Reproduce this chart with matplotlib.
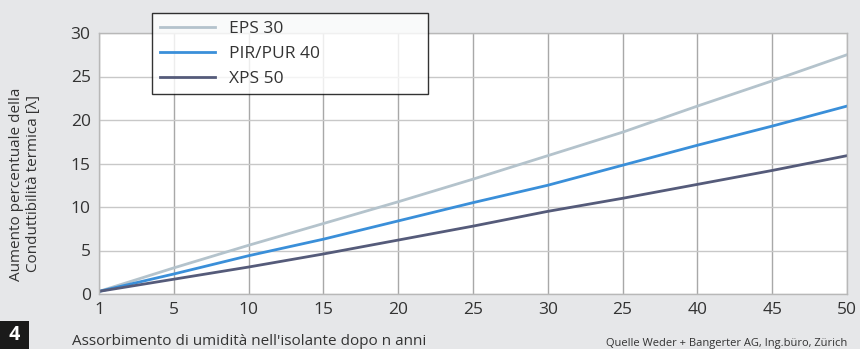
import numpy as np
import matplotlib.pyplot as plt

plt.rcParams['font.family'] = ['Open Sans', 'DejaVu Sans']

# x tick labels as printed (note the repeated "25" in the source)
x_labels = ["1", "5", "10", "15", "20", "25", "30", "25", "40", "45", "50"]
eps_30 = [0.3, 3.0, 5.6, 8.1, 10.6, 13.2, 15.9, 18.6, 21.6, 24.5, 27.5]
pir_40 = [0.3, 2.3, 4.4, 6.3, 8.4, 10.5, 12.5, 14.8, 17.1, 19.3, 21.6]
xps_50 = [0.3, 1.7, 3.1, 4.6, 6.2, 7.8, 9.5, 11.0, 12.6, 14.2, 15.9]

bg = '#e6e7e9'
fig = plt.figure(figsize=(8.6, 3.49), dpi=100, facecolor=bg)
ax = fig.add_axes([99/860, 55/349, 748/860, 261/349])
ax.set_facecolor('white')

pos = np.arange(len(x_labels))
l1, = ax.plot(pos, eps_30, color='#b4c3cc', lw=2, label='EPS 30')
l2, = ax.plot(pos, pir_40, color='#3a8fd9', lw=2, label='PIR/PUR 40')
l3, = ax.plot(pos, xps_50, color='#555b7a', lw=2, label='XPS 50')

ax.set_xlim(0, len(x_labels) - 1)
ax.set_ylim(0, 30)
ax.set_xticks(pos)
ax.set_xticklabels(x_labels)
ax.set_yticks(np.arange(0, 31, 5))
ax.tick_params(length=0, labelsize=12.5, colors='#333333', pad=6)
ax.grid(True, axis='x', color='#a8a8a8', lw=1)
ax.grid(True, axis='y', color='#c8c8c8', lw=1)
ax.set_axisbelow(True)
for s in ax.spines.values():
    s.set_color('#b8b8b8')
    s.set_linewidth(1)

fig.text(25/860, 165/349, "Aumento percentuale della\nConduttibilità termica [λ]",
         rotation=90, ha='center', va='center', fontsize=11, color='#333333',
         linespacing=1.1)

leg = fig.legend(handles=[l1, l2, l3], loc='upper left',
                 bbox_to_anchor=(152/860, 1 - 93/349, 276/860, 80/349),
                 mode='expand', fontsize=12.5,
                 frameon=True, fancybox=False, handlelength=3.2,
                 borderpad=0.45, labelspacing=0.5, handletextpad=0.8,
                 borderaxespad=0)
leg.get_frame().set_edgecolor('black')
leg.get_frame().set_linewidth(1)
for t in leg.get_texts():
    t.set_color('#333333')

fig.text(4/860, 4/349, " 4 ", fontsize=14, color='white', fontweight='bold',
         ha='left', va='bottom',
         bbox=dict(boxstyle='square,pad=0.2', fc='#1a1a1a', ec='none'))
fig.text(72/860, 0/349, "Assorbimento di umidità nell'isolante dopo n anni",
         fontsize=11, color='#333333', ha='left', va='bottom')
fig.text(847/860, 0/349, "Quelle Weder + Bangerter AG, Ing.büro, Zürich",
         fontsize=8, color='#333333', ha='right', va='bottom')

fig.savefig('out.png', dpi=100, facecolor=bg)
